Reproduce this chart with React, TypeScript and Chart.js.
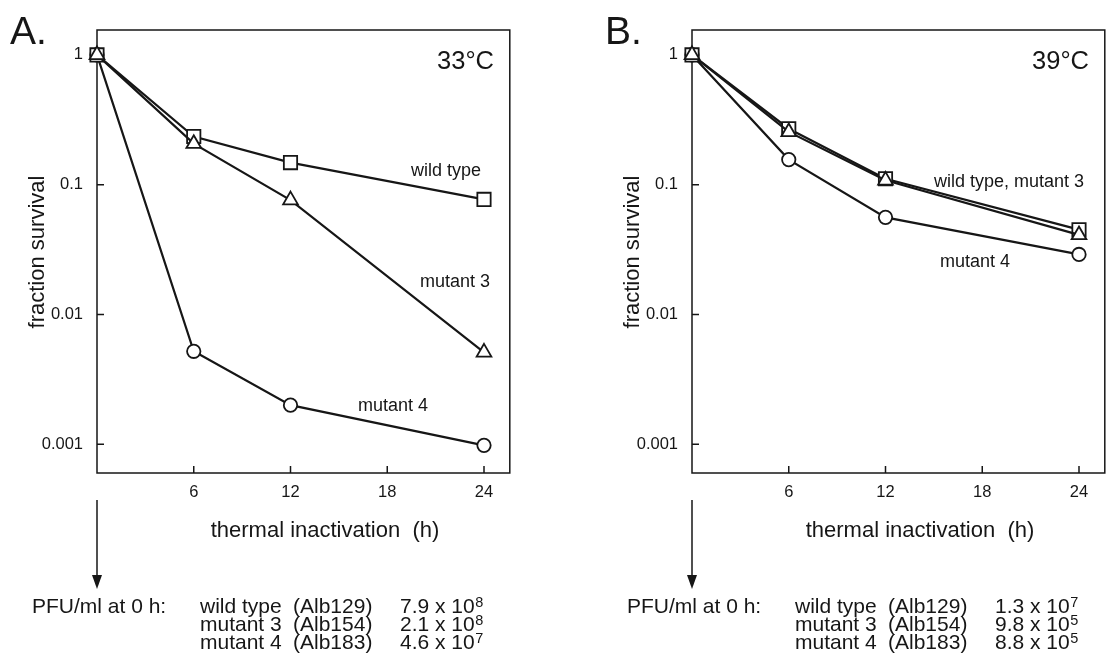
import React, { useEffect, useRef } from "react";
import { Chart, registerables } from "chart.js";

Chart.register(...registerables);

// ---------- data ----------
const hours = [0, 6, 12, 24];
const xTickValues = [6, 12, 18, 24];
const yTickValues = [0.001, 0.01, 0.1, 1];

const wildType33 = [1, 0.235, 0.148, 0.077];
const mutant3At33 = [1, 0.207, 0.076, 0.0051];
const mutant4At33 = [1, 0.0052, 0.002, 0.00098];

const wildType39 = [1, 0.27, 0.111, 0.045];
const mutant3At39 = [1, 0.255, 0.108, 0.041];
const mutant4At39 = [1, 0.156, 0.056, 0.029];

const pfuStrains = ["wild type", "mutant 3", "mutant 4"];
const pfuIsolates = ["(Alb129)", "(Alb154)", "(Alb183)"];
const pfuMantissa33 = ["7.9", "2.1", "4.6"];
const pfuExponent33 = ["8", "8", "7"];
const pfuMantissa39 = ["1.3", "9.8", "8.8"];
const pfuExponent39 = ["7", "5", "5"];

const FONT = "'Liberation Sans', Arial, Helvetica, sans-serif";
const INK = "#161616";

type LineLabel = { text: string; x: number; y: number };

type PanelProps = {
  letter: string;
  temp: string;
  wild: number[];
  m3: number[];
  m4: number[];
  lineLabels: LineLabel[];
  mantissa: string[];
  exponent: string[];
  left: number;
};

function toPoints(vals: number[]) {
  return hours.map((h, i) => ({ x: h, y: vals[i] }));
}

function Panel(props: PanelProps) {
  const ref = useRef<HTMLCanvasElement | null>(null);

  useEffect(() => {
    if (!ref.current) return;
    const p = props;

    const decor = {
      id: "decor",
      beforeDatasetsDraw(chart: any) {
        const { ctx, chartArea } = chart;
        const xs = chart.scales.x;
        const ys = chart.scales.y;
        ctx.save();
        ctx.strokeStyle = INK;
        ctx.lineWidth = 1.5;
        ctx.strokeRect(chartArea.left, chartArea.top, chartArea.right - chartArea.left, chartArea.bottom - chartArea.top);
        ctx.beginPath();
        xTickValues.forEach((v) => {
          const px = xs.getPixelForValue(v);
          ctx.moveTo(px, chartArea.bottom);
          ctx.lineTo(px, chartArea.bottom - 7);
        });
        yTickValues.forEach((v) => {
          const py = ys.getPixelForValue(v);
          ctx.moveTo(chartArea.left, py);
          ctx.lineTo(chartArea.left + 7, py);
        });
        ctx.stroke();
        ctx.restore();
      },
      afterDraw(chart: any) {
        const { ctx, chartArea } = chart;
        ctx.save();
        ctx.fillStyle = INK;
        ctx.textBaseline = "alphabetic";

        // panel letter
        ctx.font = `39px ${FONT}`;
        ctx.textAlign = "left";
        ctx.fillText(p.letter, 10, 44);

        // temperature
        ctx.font = `25.5px ${FONT}`;
        ctx.textAlign = "right";
        ctx.fillText(p.temp, 494, 69);

        // line labels
        ctx.font = `18px ${FONT}`;
        ctx.textAlign = "left";
        p.lineLabels.forEach((l) => ctx.fillText(l.text, l.x, l.y));

        // axis titles
        ctx.font = `22px ${FONT}`;
        ctx.textAlign = "center";
        ctx.fillText("thermal inactivation  (h)", 325, 537);
        ctx.save();
        ctx.translate(44, 252);
        ctx.rotate(-Math.PI / 2);
        ctx.fillText("fraction survival", 0, 0);
        ctx.restore();

        // arrow
        const ax = chartArea.left;
        ctx.strokeStyle = INK;
        ctx.lineWidth = 1.5;
        ctx.beginPath();
        ctx.moveTo(ax, 500);
        ctx.lineTo(ax, 578);
        ctx.stroke();
        ctx.beginPath();
        ctx.moveTo(ax - 5, 575);
        ctx.lineTo(ax + 5, 575);
        ctx.lineTo(ax, 589);
        ctx.closePath();
        ctx.fill();

        // PFU text
        ctx.textAlign = "left";
        const rows = [613, 631, 649];
        ctx.font = `21px ${FONT}`;
        ctx.fillText("PFU/ml at 0 h:", 32, rows[0]);
        rows.forEach((y, i) => {
          ctx.font = `21px ${FONT}`;
          ctx.fillText(pfuStrains[i], 200, y);
          ctx.fillText(pfuIsolates[i], 293, y);
          const base = `${p.mantissa[i]} x 10`;
          ctx.fillText(base, 400, y);
          const w = ctx.measureText(base).width;
          ctx.font = `14.5px ${FONT}`;
          ctx.fillText(p.exponent[i], 400 + w + 0.5, y - 6);
        });
        ctx.restore();
      },
    };

    const common = {
      borderColor: INK,
      borderWidth: 2.2,
      pointBackgroundColor: "#ffffff",
      pointBorderColor: INK,
      pointBorderWidth: 1.8,
      clip: false,
      tension: 0,
    };

    const chart = new Chart(ref.current, {
      type: "line",
      data: {
        datasets: [
          { ...common, label: "mutant 3", data: toPoints(p.m3), pointStyle: "triangle", pointRadius: 8.5 },
          { ...common, label: "wild type", data: toPoints(p.wild), pointStyle: "rect", pointRadius: 9.4 },
          { ...common, label: "mutant 4", data: toPoints(p.m4), pointStyle: "circle", pointRadius: 6.7 },
        ],
      } as any,
      options: {
        responsive: false,
        animation: false,
        devicePixelRatio: 1,
        events: [],
        layout: { padding: { left: 0, top: 30, right: 6, bottom: 154 } },
        plugins: { legend: { display: false }, tooltip: { enabled: false } },
        scales: {
          x: {
            type: "linear",
            min: 0,
            max: 25.6,
            grid: { display: false, drawTicks: false },
            border: { display: false },
            afterBuildTicks: (s: any) => {
              s.ticks = xTickValues.map((v) => ({ value: v }));
            },
            afterFit: (s: any) => {
              s.height = 40;
            },
            ticks: {
              padding: 10,
              color: INK,
              font: { family: FONT, size: 16.5 },
              maxRotation: 0,
              callback: (v: any) => String(v),
            },
          },
          y: {
            type: "logarithmic",
            min: 0.000619,
            max: 1.556,
            grid: { display: false, drawTicks: false },
            border: { display: false },
            afterBuildTicks: (s: any) => {
              s.ticks = yTickValues.map((v) => ({ value: v }));
            },
            afterFit: (s: any) => {
              s.width = 97;
            },
            ticks: {
              padding: 14,
              color: INK,
              font: { family: FONT, size: 16.5 },
              callback: (v: any) => String(v),
            },
          },
        },
      } as any,
      plugins: [decor],
    });
    return () => chart.destroy();
  }, []);

  return (
    <canvas
      ref={ref}
      width={521}
      height={667}
      style={{ position: "absolute", top: 0, left: props.left, width: 521, height: 667 }}
    />
  );
}

export default function App() {
  return (
    <div style={{ position: "fixed", left: 0, top: 0, width: 1116, height: 667, background: "#ffffff", overflow: "hidden" }}>
      <Panel
        letter="A."
        temp="33°C"
        wild={wildType33}
        m3={mutant3At33}
        m4={mutant4At33}
        lineLabels={[
          { text: "wild type", x: 411, y: 176 },
          { text: "mutant 3", x: 420, y: 287 },
          { text: "mutant 4", x: 358, y: 411 },
        ]}
        mantissa={pfuMantissa33}
        exponent={pfuExponent33}
        left={0}
      />
      <Panel
        letter="B."
        temp="39°C"
        wild={wildType39}
        m3={mutant3At39}
        m4={mutant4At39}
        lineLabels={[
          { text: "wild type, mutant 3", x: 934 - 595, y: 187 },
          { text: "mutant 4", x: 940 - 595, y: 267 },
        ]}
        mantissa={pfuMantissa39}
        exponent={pfuExponent39}
        left={595}
      />
    </div>
  );
}
